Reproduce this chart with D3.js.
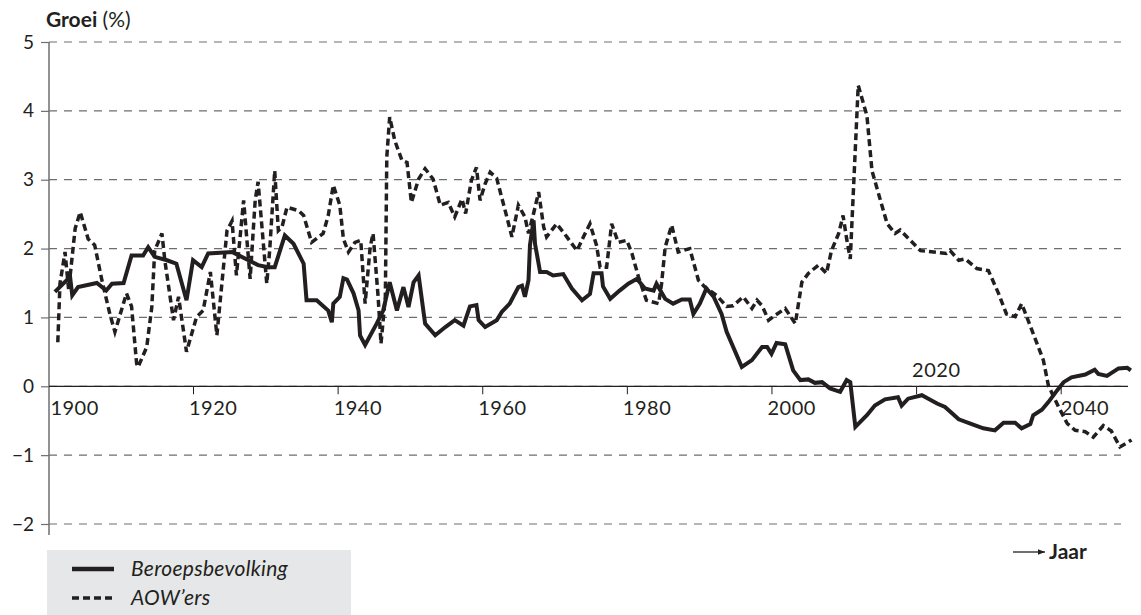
<!DOCTYPE html>
<html>
<head>
<meta charset="utf-8">
<script src="https://cdn.jsdelivr.net/npm/d3@7"></script>
<style>
  body { margin: 0; background: #fff; }
  svg { display: block; font-family: Lato, "Open Sans", sans-serif; }
</style>
</head>
<body>
<svg width="1141" height="615"></svg>
<script>
// values (year, growth %)
const beroepsJaar = [1900.9,1903.0,1903.3,1904.1,1906.7,1908.0,1908.8,1910.4,1911.5,1913.1,1913.8,1914.7,1916.4,1917.7,1919.1,1920.0,1921.2,1922.1,1925.4,1929.0,1930.4,1931.3,1932.7,1933.9,1935.3,1935.7,1937.1,1938.7,1939.2,1939.4,1940.3,1940.8,1941.3,1942.2,1942.9,1943.1,1943.8,1945.4,1946.3,1947.2,1948.2,1949.1,1949.8,1950.5,1951.2,1952.1,1953.5,1954.9,1956.2,1957.4,1958.3,1959.2,1959.5,1960.4,1962.0,1962.7,1963.8,1965.0,1965.5,1965.9,1966.4,1966.6,1967.1,1967.3,1968.0,1968.9,1969.8,1971.2,1972.4,1973.8,1974.9,1975.4,1976.5,1976.7,1977.7,1979.0,1980.2,1981.4,1982.5,1983.7,1984.1,1985.3,1986.4,1987.6,1988.7,1989.2,1990.1,1991.0,1992.0,1993.1,1993.8,1995.9,1997.3,1998.7,1999.4,2000.0,2000.7,2001.9,2003.0,2004.0,2005.1,2006.0,2007.0,2008.1,2009.5,2010.4,2010.9,2011.6,2013.2,2014.3,2015.7,2017.5,2018.0,2018.9,2020.8,2021.7,2022.9,2024.0,2025.9,2027.7,2029.3,2030.9,2032.1,2033.7,2034.6,2035.8,2036.2,2037.4,2038.3,2039.5,2040.4,2041.5,2043.4,2044.7,2045.2,2046.4,2048.0,2049.2,2049.7];
const beroepsGroei = [1.37,1.59,1.32,1.44,1.50,1.39,1.49,1.50,1.90,1.90,2.02,1.88,1.83,1.78,1.25,1.83,1.73,1.93,1.95,1.76,1.73,1.73,2.19,2.07,1.78,1.25,1.25,1.10,0.93,1.20,1.30,1.57,1.55,1.35,1.10,0.74,0.60,0.91,1.10,1.51,1.10,1.44,1.15,1.51,1.61,0.91,0.74,0.86,0.96,0.88,1.16,1.18,0.96,0.86,0.96,1.08,1.20,1.44,1.46,1.30,1.54,2.05,2.41,2.07,1.66,1.66,1.61,1.63,1.42,1.25,1.34,1.64,1.64,1.45,1.27,1.39,1.49,1.56,1.42,1.39,1.49,1.27,1.20,1.26,1.26,1.05,1.20,1.42,1.30,1.05,0.79,0.28,0.38,0.57,0.57,0.47,0.63,0.61,0.23,0.09,0.10,0.05,0.06,-0.03,-0.08,0.09,0.06,-0.59,-0.42,-0.28,-0.19,-0.16,-0.28,-0.18,-0.13,-0.18,-0.25,-0.30,-0.48,-0.55,-0.61,-0.64,-0.53,-0.53,-0.61,-0.55,-0.42,-0.34,-0.23,-0.06,0.06,0.13,0.17,0.24,0.18,0.15,0.26,0.27,0.23];

const aowJaar = [1901.3,1901.6,1902.3,1902.8,1903.7,1904.4,1905.5,1906.4,1907.4,1908.5,1909.2,1910.8,1911.5,1912.2,1912.4,1913.6,1914.3,1914.7,1915.7,1916.1,1917.3,1918.0,1919.1,1920.5,1921.4,1922.4,1923.3,1924.7,1925.4,1926.0,1927.0,1927.9,1928.6,1929.0,1930.2,1930.6,1931.3,1931.8,1932.3,1933.0,1934.6,1935.3,1936.4,1938.0,1938.7,1939.4,1940.3,1940.8,1941.5,1942.4,1943.2,1943.8,1944.5,1944.9,1945.6,1946.0,1946.6,1946.8,1947.2,1947.9,1948.9,1949.6,1950.2,1951.2,1952.1,1953.2,1954.2,1955.3,1956.2,1957.2,1957.7,1958.5,1959.2,1959.7,1960.4,1961.1,1962.0,1963.4,1964.1,1965.0,1965.9,1966.4,1967.1,1967.8,1968.5,1968.9,1970.3,1971.7,1973.1,1974.0,1974.9,1975.8,1976.3,1977.2,1977.9,1978.8,1980.0,1980.7,1981.6,1982.7,1984.4,1984.8,1985.3,1986.2,1987.1,1988.7,1989.9,1990.8,1992.4,1993.8,1994.7,1996.1,1997.3,1998.0,1998.7,1999.6,2000.5,2001.9,2003.3,2004.2,2005.1,2006.5,2007.6,2008.3,2009.3,2009.9,2010.4,2010.9,2012.0,2013.2,2013.9,2016.0,2017.1,2017.8,2020.6,2024.2,2024.7,2025.9,2026.8,2028.4,2030.0,2031.4,2032.5,2033.7,2034.6,2035.3,2037.6,2038.3,2039.7,2040.9,2042.0,2043.4,2044.5,2045.9,2047.0,2048.2,2049.8];
const aowGroei = [0.64,1.49,1.95,1.40,2.29,2.53,2.14,2.05,1.54,1.05,0.79,1.35,1.16,0.33,0.28,0.57,1.15,1.97,2.22,1.83,0.96,1.30,0.50,1.01,1.10,1.66,0.74,2.26,2.40,1.61,2.70,1.56,2.70,2.97,1.49,1.97,3.13,2.26,2.31,2.60,2.55,2.48,2.09,2.22,2.48,2.92,2.63,2.14,1.95,2.09,2.12,1.20,2.02,2.22,1.30,0.62,1.30,3.33,3.91,3.57,3.28,3.25,2.67,3.01,3.16,3.01,2.63,2.67,2.46,2.72,2.51,2.99,3.18,2.70,2.94,3.11,3.02,2.46,2.17,2.63,2.46,2.22,2.51,2.82,2.31,2.17,2.36,2.17,1.97,2.17,2.36,2.05,1.73,1.73,2.36,2.09,2.12,1.93,1.59,1.25,1.20,1.49,2.02,2.34,1.95,2.00,1.54,1.44,1.32,1.16,1.17,1.30,1.13,1.25,1.17,0.96,1.03,1.13,0.91,1.51,1.64,1.76,1.64,1.97,2.22,2.48,2.14,1.85,4.37,3.93,3.13,2.36,2.22,2.27,1.97,1.93,1.97,1.83,1.85,1.71,1.68,1.35,1.05,1.01,1.20,1.01,0.38,0.01,-0.30,-0.54,-0.64,-0.66,-0.74,-0.57,-0.65,-0.88,-0.78];

const yTicks = [-2, -1, 0, 1, 2, 3, 4, 5];
const xTicks = [1900, 1920, 1940, 1960, 1980, 2000, 2020, 2040];
const legendLabels = ["Beroepsbevolking", "AOW\u2019ers"];

const ink = "#231f20";
const gridColor = "#6d6e71";

const svg = d3.select("svg");

const x = d3.scaleLinear().domain([1900, 2050]).range([48.4, 1133]);
const y = d3.scaleLinear().domain([-2, 5]).range([524, 42]);

// gridlines
svg.append("g")
    .selectAll("line")
    .data(yTicks)
    .join("line")
    .attr("x1", 49)
    .attr("x2", 1121)
    .attr("y1", d => y(d))
    .attr("y2", d => y(d))
    .attr("stroke", gridColor)
    .attr("stroke-width", 1.2)
    .attr("stroke-dasharray", "8,7");

// y axis
const yAxis = svg.append("g")
    .attr("transform", "translate(49,0)")
    .call(d3.axisLeft(y).tickValues(yTicks).tickSize(8).tickPadding(7)
        .tickFormat(d => d < 0 ? "\u2212" + Math.abs(d) : d));
yAxis.select(".domain").remove();
yAxis.selectAll("line").attr("stroke", gridColor).attr("stroke-width", 1.2);
yAxis.selectAll("text").attr("fill", ink).attr("font-size", 19).attr("font-family", "Lato, sans-serif");
svg.append("line")
    .attr("x1", 49).attr("x2", 49)
    .attr("y1", 42).attr("y2", 535)
    .attr("stroke", gridColor).attr("stroke-width", 1.5);

// x axis on zero
const xAxis = svg.append("g")
    .attr("transform", `translate(0,${y(0)})`)
    .call(d3.axisBottom(x).tickValues(xTicks.filter(d => d > 1900)).tickSize(8).tickFormat(""));
xAxis.select(".domain").remove();
xAxis.selectAll("line").attr("stroke", ink).attr("stroke-width", 1);
svg.append("line")
    .attr("x1", 49).attr("x2", 1128)
    .attr("y1", y(0)).attr("y2", y(0))
    .attr("stroke", ink).attr("stroke-width", 1.2);

// x labels (2020 sits above the axis, 1900 and 2040 nudged right)
const labelShift = { 1900: 6, 2040: 4 };
svg.append("g")
    .selectAll("text")
    .data(xTicks)
    .join("text")
    .attr("x", d => x(d) - 4 + (labelShift[d] || 0))
    .attr("y", d => d === 2020 ? y(0) - 9 : y(0) + 29)
    .attr("fill", ink)
    .attr("font-size", 20)
    .attr("letter-spacing", 0.5)
    .text(d => d);

// lines
const line = d3.line().x(d => x(d[0])).y(d => y(d[1]));
svg.append("path")
    .datum(d3.zip(aowJaar, aowGroei))
    .attr("d", line)
    .attr("fill", "none")
    .attr("stroke", ink)
    .attr("stroke-width", 3.5)
    .attr("stroke-dasharray", "7,4");
svg.append("path")
    .datum(d3.zip(beroepsJaar, beroepsGroei))
    .attr("d", line)
    .attr("fill", "none")
    .attr("stroke", ink)
    .attr("stroke-width", 4)
    .attr("stroke-linejoin", "miter")
    .attr("stroke-miterlimit", 3);

// title
const title = svg.append("text")
    .attr("x", 46).attr("y", 27)
    .attr("fill", ink)
    .attr("font-size", 21);
title.append("tspan").attr("font-weight", "bold").text("Groei");
title.append("tspan").text(" (%)");

// Jaar arrow
svg.append("defs").append("marker")
    .attr("id", "arrowhead")
    .attr("viewBox", "0 -5 10 10")
    .attr("refX", 10).attr("refY", 0)
    .attr("markerWidth", 7).attr("markerHeight", 7)
    .attr("markerUnits", "userSpaceOnUse")
    .attr("orient", "auto")
    .append("path")
    .attr("d", "M0,-4L10,0L0,4")
    .attr("fill", ink);
svg.append("line")
    .attr("x1", 1013).attr("x2", 1045)
    .attr("y1", 552).attr("y2", 552)
    .attr("stroke", ink).attr("stroke-width", 1.3)
    .attr("marker-end", "url(#arrowhead)");
svg.append("text")
    .attr("x", 1049).attr("y", 559)
    .attr("fill", ink)
    .attr("font-size", 21)
    .attr("font-weight", "bold")
    .text("Jaar");

// legend
svg.append("rect")
    .attr("x", 47).attr("y", 550)
    .attr("width", 304).attr("height", 65)
    .attr("fill", "#e6e7e8");
const legend = svg.append("g")
    .selectAll("g")
    .data(legendLabels)
    .join("g")
    .attr("transform", (d, i) => `translate(0,${569 + i * 29})`);
legend.append("line")
    .attr("x1", 72).attr("x2", 114)
    .attr("stroke", ink)
    .attr("stroke-width", (d, i) => i === 0 ? 4.5 : 3.5)
    .attr("stroke-dasharray", (d, i) => i === 0 ? null : "7,4");
legend.append("text")
    .attr("x", 131).attr("y", 7)
    .attr("fill", ink)
    .attr("font-size", 21)
    .attr("font-style", "italic")
    .attr("letter-spacing", 0.3)
    .text(d => d);
</script>
</body>
</html>
